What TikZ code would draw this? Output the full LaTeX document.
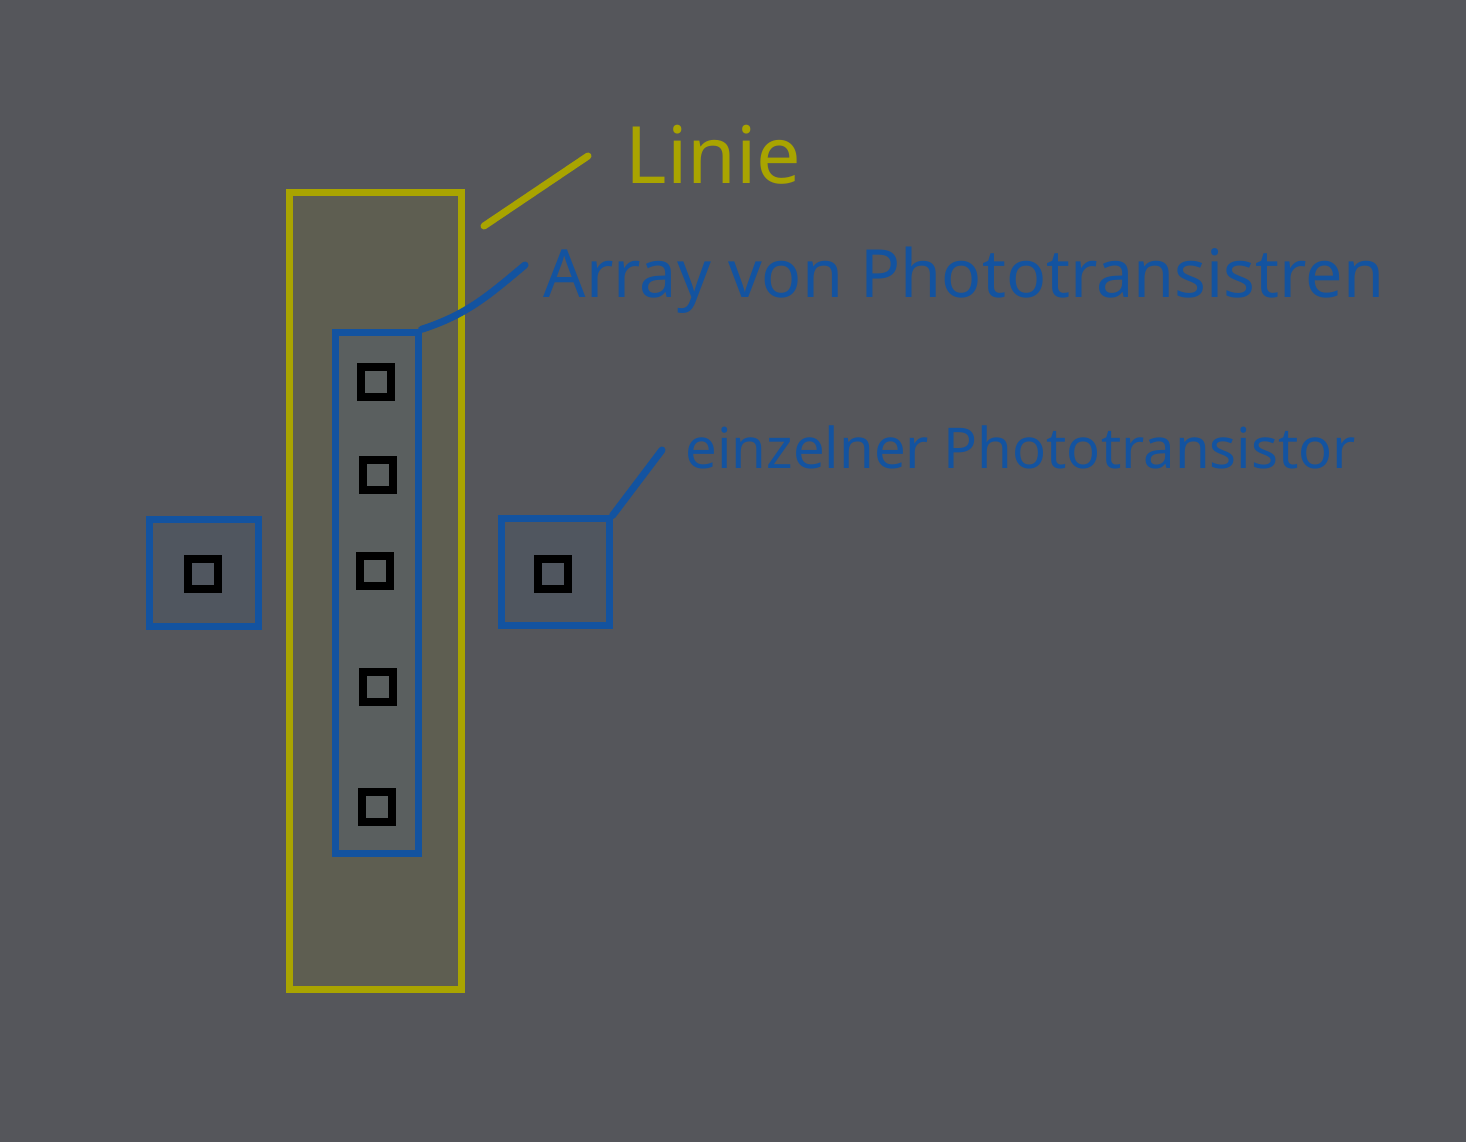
\documentclass[tikz,border=0pt]{standalone}
\usepackage{fontspec}
\setmainfont{Noto Sans}
\usepackage{xcolor}
\usetikzlibrary{positioning}
\definecolor{bgcol}{HTML}{55565B}
\definecolor{liniecol}{HTML}{A9A400}
\definecolor{liniefill}{HTML}{5E5E51}
\definecolor{arraycol}{HTML}{1353A0}
\definecolor{arrayfill}{HTML}{5A5F5F}
\definecolor{boxfill}{HTML}{50565F}
\tikzset{
    pt/.style={draw=black, line width=2.1pt, minimum size=0.30cm, inner sep=0pt},
    blau/.style={draw=arraycol, line width=2pt},
    lbl/.style={anchor=base west, inner sep=0pt}
}

\begin{document}
\begin{tikzpicture}[x=0.01cm, y=-0.01cm]
                                \fill[bgcol] (0, 0) rectangle (1466, 1142);
                                \node[draw=liniecol, line width=2pt, fill=liniefill, minimum width=1.71cm, minimum height=7.96cm] (linie) at (375.5, 591) {};
                                \node[blau, fill=arrayfill, minimum width=0.82cm, minimum height=5.2cm] (arr) at (377, 593) {};
                                \node[blau, fill=boxfill, minimum width=1.08cm, minimum height=1.06cm] (links) at (204, 573) {};
                                \node[blau, fill=boxfill, minimum width=1.07cm, minimum height=1.06cm] (rechts) at (555.5, 572) {};
                                \node[pt] (p1) at (376, 382) {};
                                \node[pt] (p2) at (378, 475) {};
                                \node[pt] (p3) at (375, 571) {};
                                \node[pt] (p4) at (378, 687) {};
                                \node[pt] (p5) at (377, 807) {};
                                \node[pt] (pl) at (203, 574) {};
                                \node[pt] (pr) at (553, 574) {};
                                \node[lbl, text=liniecol, font=\fontsize{22.5}{27}\selectfont] (tlinie) at (625, 183) {Linie};
                                \node[lbl, text=arraycol, font=\fontsize{18.9}{23}\selectfont] (tarr) at (543, 297) {Array von Phototransistren};
                                \node[lbl, text=arraycol, font=\fontsize{16}{20}\selectfont] (tein) at (685, 468) {einzelner Phototransistor};
                                \coordinate (c1) at (484, 226);
                                \coordinate (c2) at (588, 156);
                                \coordinate (c3) at (525, 265);
                                \coordinate (c4) at (662, 450);
                                \draw[liniecol, line width=2pt, line cap=round]
                                (c1) -- (c2);
                                \draw[arraycol, line width=2pt, line cap=round]
                                (arr.north east) to[out=18, in=-140] (c3)
                                (rechts.north east) -- (c4);
                            \end{tikzpicture}
\end{document}
